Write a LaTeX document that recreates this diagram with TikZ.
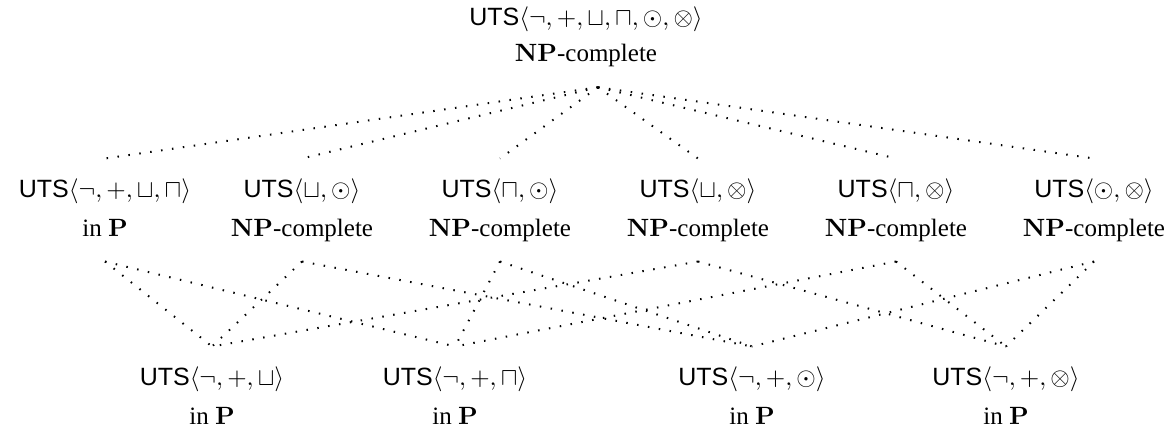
\documentclass[tikz,border=0pt]{standalone}
\usepackage[no-math]{fontspec}
\setmainfont{Liberation Serif}
\setsansfont{Liberation Sans}
\newcommand{\uts}{\textsf{UTS}}
\tikzset{
  cls/.style={align=center, inner sep=0pt, outer sep=8pt, text depth=2.2pt},
  link/.style={line width=0.8pt, dash pattern=on 0.6pt off 3.8pt},
}
\begin{document}
\begin{tikzpicture}[x=0.4pt,y=-0.4pt]
\useasboundingbox (0,0) rectangle (1172,433);
% top
\node[cls] (top) at (586,37) {$\uts\langle\neg,+,\sqcup,\sqcap,\odot,\otimes\rangle$\\[2.5pt] $\mathbf{NP}$-complete};
% middle row
\node[cls] (m1) at (105,210) {$\uts\langle\neg,+,\sqcup,\sqcap\rangle$\\[3.5pt] in $\mathbf{P}$};
\node[cls] (m2) at (302,210) {$\uts\langle\sqcup,\odot\rangle$\\[3.5pt] $\mathbf{NP}$-complete};
\node[cls] (m3) at (500,210) {$\uts\langle\sqcap,\odot\rangle$\\[3.5pt] $\mathbf{NP}$-complete};
\node[cls] (m4) at (698,210) {$\uts\langle\sqcup,\otimes\rangle$\\[3.5pt] $\mathbf{NP}$-complete};
\node[cls] (m5) at (896,210) {$\uts\langle\sqcap,\otimes\rangle$\\[3.5pt] $\mathbf{NP}$-complete};
\node[cls] (m6) at (1094,210) {$\uts\langle\odot,\otimes\rangle$\\[3.5pt] $\mathbf{NP}$-complete};
% bottom row
\node[cls] (b1) at (212,398) {$\uts\langle\neg,+,\sqcup\rangle$\\[3.5pt] in $\mathbf{P}$};
\node[cls] (b2) at (455,398) {$\uts\langle\neg,+,\sqcap\rangle$\\[3.5pt] in $\mathbf{P}$};
\node[cls] (b3) at (752,398) {$\uts\langle\neg,+,\odot\rangle$\\[3.5pt] in $\mathbf{P}$};
\node[cls] (b4) at (1006,398) {$\uts\langle\neg,+,\otimes\rangle$\\[3.5pt] in $\mathbf{P}$};
% connectors
\foreach \m in {m1,m2,m3,m4,m5,m6}
  \draw[link] ([xshift=4.8pt]top.south) -- (\m.north);
\draw[link] (m1.south) -- (b1.north);
\draw[link] (m1.south) -- (b2.north);
\draw[link] (m2.south) -- (b1.north);
\draw[link] (m2.south) -- (b3.north);
\draw[link] (m3.south) -- (b2.north);
\draw[link] (m3.south) -- (b3.north);
\draw[link] (m4.south) -- (b1.north);
\draw[link] (m4.south) -- (b4.north);
\draw[link] (m5.south) -- (b2.north);
\draw[link] (m5.south) -- (b4.north);
\draw[link] (m6.south) -- (b3.north);
\draw[link] (m6.south) -- (b4.north);
\end{tikzpicture}
\end{document}
